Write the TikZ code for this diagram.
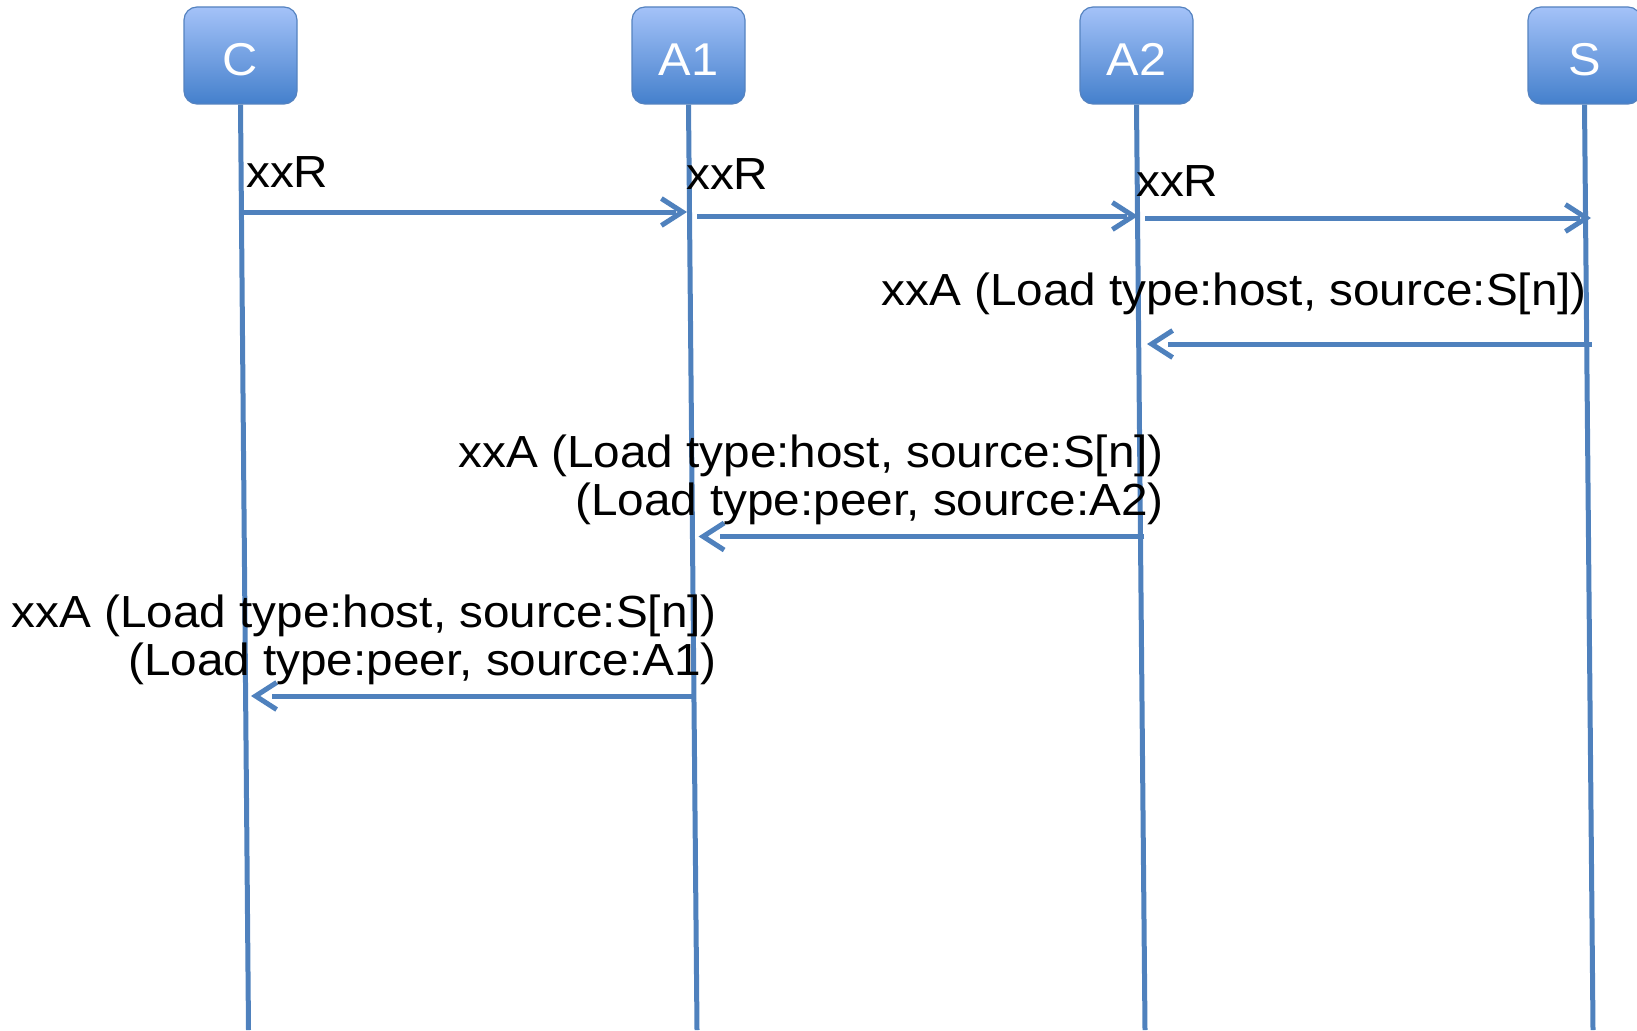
\documentclass[tikz,border=0pt]{standalone}
\usepackage{fontspec}
\setmainfont{Liberation Sans}[FakeStretch=1.06]
\usetikzlibrary{arrows.meta,decorations.markings}
\definecolor{ln}{HTML}{4F81BD}
\definecolor{boxline}{HTML}{5583C0}
\definecolor{boxtop}{HTML}{A4C2F8}
\definecolor{boxbot}{HTML}{4480CC}
\begin{document}
\begin{tikzpicture}[x=1pt,y=-1pt,
 actor/.style={draw=boxline, line width=1.2pt, rounded corners=13pt, top color=boxtop, bottom color=boxbot,
   minimum width=113pt, minimum height=97pt, inner sep=0pt, text=white,
   font=\fontsize{46}{48}\selectfont, text height=41pt, text depth=0pt},
 life/.style={draw=ln, line width=5pt},
 msg/.style={draw=ln, line width=5pt, shorten >=#1,
   postaction={decorate, decoration={markings,
     mark=at position 0.99999 with {\arrow[ln, line width=5pt]{Straight Barb[length=21pt,width=27pt]}}}}},
 msg/.default=11pt,
 lbl/.style={inner sep=0pt, font=\fontsize{45}{48}\selectfont, align=right}
]
\useasboundingbox (0,0) rectangle (1637,1030);
% actors
\node[actor] (C)  at (240.5,55.5)  {C};
\node[actor] (A1) at (688.5,55.5)  {A1};
\node[actor] (A2) at (1136.5,55.5) {A2};
\node[actor] (S)  at (1584.5,55.5) {S};
% lifeline ends
\coordinate (Cend)  at (248.5,1030);
\coordinate (A1end) at (697,1030);
\coordinate (A2end) at (1145,1030);
\coordinate (Send)  at (1593,1030);
\draw[life] (C.south) -- (Cend);
\draw[life] (A1.south) -- (A1end);
\draw[life] (A2.south) -- (A2end);
\draw[life] (S.south) -- (Send);
% message end points
\coordinate (m1a) at (242,212);   \coordinate (m1b) at (687,212);
\coordinate (m2a) at (697,216);   \coordinate (m2b) at (1138,216);
\coordinate (m3a) at (1145,218);  \coordinate (m3b) at (1591,218);
\coordinate (m4a) at (1592,344);  \coordinate (m4b) at (1147,344);
\coordinate (m5a) at (1144,536.5);\coordinate (m5b) at (698.5,536.5);
\coordinate (m6a) at (696,696);   \coordinate (m6b) at (251,696);
\draw[msg] (m1a) -- (m1b);
\draw[msg] (m2a) -- (m2b);
\draw[msg] (m3a) -- (m3b);
\draw[msg=21pt] (m4a) -- (m4b);
\draw[msg=21pt] (m5a) -- (m5b);
\draw[msg=21pt] (m6a) -- (m6b);
% labels
\node[lbl, anchor=base west] (l1) at (246,187) {xxR};
\node[lbl, anchor=base west] (l2) at (686,189) {xxR};
\node[lbl, anchor=base west] (l3) at (1136,196) {xxR};
\node[lbl, anchor=base east] (l4) at (1587,305) {xxA (Load type:host, source:S[n])};
\node[lbl, anchor=base east] (l5) at (1164,515) {xxA (Load type:host, source:S[n])\\(Load type:peer, source:A2)};
\node[lbl, anchor=base east] (l6) at (717,675) {xxA (Load type:host, source:S[n])\\(Load type:peer, source:A1)};
\end{tikzpicture}
\end{document}
